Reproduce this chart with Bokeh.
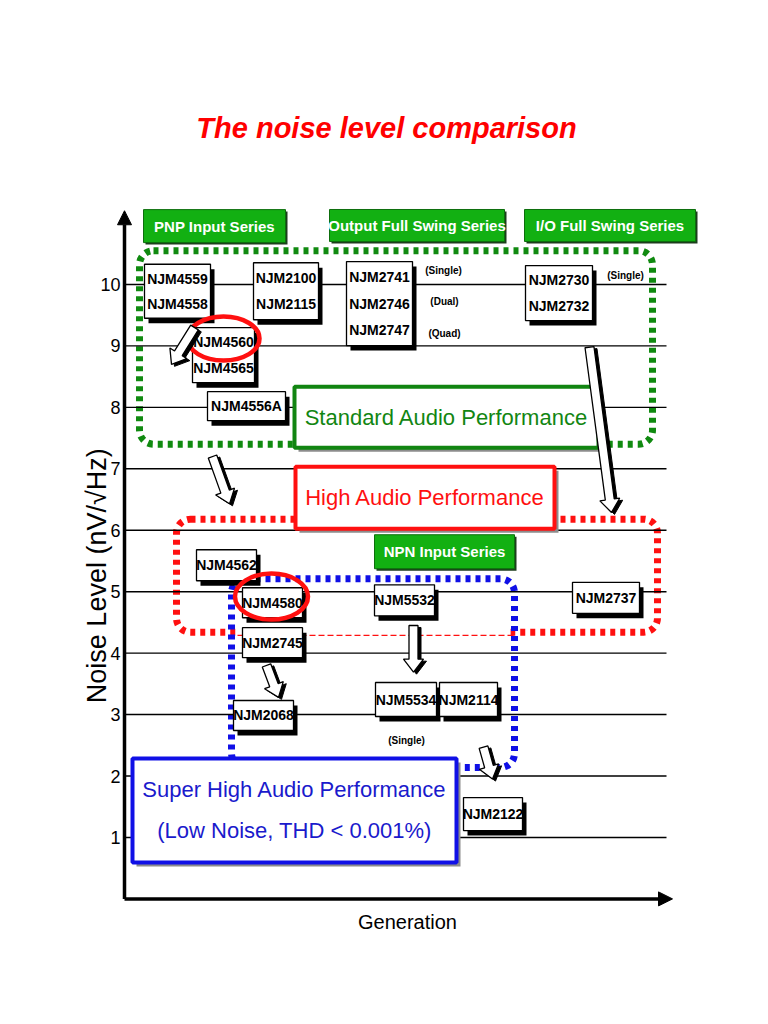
import math
from bokeh.plotting import figure
from bokeh.models import Range1d, FixedTicker, Arrow, NormalHead, BoxAnnotation, Label
from bokeh.core.properties import value
from bokeh.embed import file_html
from bokeh.resources import INLINE

SANS = "Liberation Sans"

# ---------------- data ----------------
levels = [1, 2, 3, 4, 5, 6, 7, 8, 9, 10]
tick_labels = ["1", "2", "3", "4", "5", "6", "7", "8", "9", "10"]

title_text = "The noise level comparison"
y_title = "Noise Level (nV/\u221aHz)"
x_title = "Generation"

series_names = ["PNP Input Series", "Output Full Swing Series", "I/O Full Swing Series", "NPN Input Series"]
series_gen = [9.0, 29.25, 48.55, 32.0]
series_level = [10.95, 10.96, 10.96, 5.65]

chip_lines = [["NJM4559", "NJM4558"], ["NJM2100", "NJM2115"], ["NJM2741", "NJM2746", "NJM2747"],
              ["NJM2730", "NJM2732"], ["NJM4560", "NJM4565"], ["NJM4556A"], ["NJM4562"],
              ["NJM4580"], ["NJM2745"], ["NJM5532"], ["NJM2737"], ["NJM2068"], ["NJM5534"],
              ["NJM2114"], ["NJM2122"]]
chip_gen = [5.3, 16.15, 25.5, 43.45, 9.9, 12.2, 10.2, 14.8, 14.8, 28.0, 48.15, 13.9, 28.15, 34.4, 36.85]
chip_level = [9.89, 9.89, 9.69, 9.86, 8.85, 8.02, 5.43, 4.82, 4.17, 4.86, 4.90, 2.985, 3.245, 3.245, 1.38]

note_text = ["(Single)", "(Dual)", "(Quad)", "(Single)", "(Single)"]
note_gen = [31.9, 32.0, 32.0, 50.1, 28.2]
note_level = [10.23, 9.72, 9.20, 10.15, 2.58]

perf_text = ["Standard Audio Performance", "High Audio Performance",
             "Super High Audio Performance\n(Low Noise, THD < 0.001%)"]
perf_gen = [32.2, 30.05, 17.0]
perf_level = [7.84, 6.53, 1.44]

region_gen_lo = [1.5, 5.2, 10.7]
region_gen_hi = [52.8, 53.3, 39.0]
region_level_hi = [10.55, 6.18, 5.21]
region_level_lo = [7.40, 4.34, 2.14]

highlight_gen = [9.9, 14.7]
highlight_level = [9.12, 4.92]

flow_gen0 = [7.0, 8.8, 46.5, 28.9, 14.2, 35.9]
flow_level0 = [9.30, 7.20, 8.98, 4.45, 3.80, 2.47]
flow_gen1 = [4.7, 10.5, 48.7, 28.9, 15.4, 36.8]
flow_level1 = [8.70, 6.43, 6.29, 3.69, 3.28, 1.95]

# ---------------- styles ----------------
PX_Y = 61.44   # pixels per noise unit
PX_X = 10.0    # pixels per generation unit
GREEN = "#12b012"
DGREEN = "#118511"
RED = "#ff1010"
BLUE = "#1010e6"

chip_w = [66, 65, 66, 67, 62, 78, 60, 60, 60, 60, 67, 60, 61, 58, 59]
chip_h = [54, 57, 84, 55, 55, 29, 31, 30, 30, 31, 31, 30, 34, 34, 33]
series_w = [142, 175, 171, 140]
series_h = [33, 32, 32, 34]
perf_w = [304, 259, 324]
perf_h = [61, 62, 104]
perf_color = [DGREEN, RED, BLUE]
perf_text_color = ["#128612", RED, "#1a1acc"]
region_color = ["#108a10", RED, BLUE]

p = figure(width=752, height=1008, output_backend="svg", toolbar_location=None,
           x_range=Range1d(-7.6, 62.8), y_range=Range1d(-1.784, 14.622),
           min_border_left=48, min_border_right=0, min_border_top=0, min_border_bottom=0)
p.outline_line_color = None
p.grid.visible = False
p.xaxis.visible = False
p.background_fill_color = "white"

ya = p.yaxis[0]
ya.fixed_location = 0
ya.ticker = FixedTicker(ticks=levels)
ya.major_label_overrides = {lv: lb for lv, lb in zip(levels, tick_labels)}
ya.major_tick_in = 0
ya.major_tick_out = 0
ya.minor_tick_in = 0
ya.minor_tick_out = 0
ya.axis_line_color = None
ya.major_label_standoff = 4
ya.major_label_text_font = SANS
ya.major_label_text_font_size = "18px"
ya.major_label_text_color = "black"

# gridlines
p.segment(x0=[0] * len(levels), x1=[54.2] * len(levels), y0=levels, y1=levels,
          line_color="black", line_width=1.4)

# dotted regions
for i in range(3):
    p.add_layout(BoxAnnotation(left=region_gen_lo[i], right=region_gen_hi[i],
                               top=region_level_hi[i], bottom=region_level_lo[i],
                               fill_color=None, fill_alpha=0, line_color=region_color[i], line_alpha=1.0,
                               line_width=7, line_dash="5 5", border_radius=14, level="underlay"))

# cover the red bottom edge inside the blue region and draw thin dashed line
p.segment(x0=[11.4], x1=[38.6], y0=[region_level_lo[1]], y1=[region_level_lo[1]],
          line_color="white", line_width=9)
p.segment(x0=[11.3], x1=[39.1], y0=[4.29], y1=[4.29], line_color=RED, line_width=1.3, line_dash="6 3")

# axes arrows
p.add_layout(Arrow(x_start=0, y_start=0, x_end=54.8, y_end=0, line_width=3.5, line_color="black",
                   end=NormalHead(size=14, fill_color="black", line_color="black")))
p.add_layout(Arrow(x_start=0, y_start=0, x_end=0, y_end=11.2, line_width=3.5, line_color="black",
                   end=NormalHead(size=14, fill_color="black", line_color="black")))

# series headers
sx = [g + 2 / PX_X for g in series_gen]
sy = [l - 2 / PX_Y for l in series_level]
p.rect(sx, sy, width=series_w, height=series_h, width_units="screen", height_units="screen",
       fill_color="#1d3d1d", line_color=None)
p.rect(series_gen, series_level, width=series_w, height=series_h, width_units="screen",
       height_units="screen", fill_color=GREEN, line_color="#0d6e0d", line_width=1.0)
p.text(series_gen, series_level, text=series_names, text_color="white", text_font=value(SANS),
       text_font_style="bold", text_font_size="15px", text_align="center", text_baseline="middle")

# performance boxes
p.rect([g + 4 / PX_X for g in perf_gen], [l - 4 / PX_Y for l in perf_level], width=perf_w,
       height=perf_h, width_units="screen", height_units="screen", fill_color="#8c8c8c", line_color=None)
p.rect(perf_gen, perf_level, width=perf_w, height=perf_h, width_units="screen", height_units="screen",
       fill_color="white", line_color=perf_color, line_width=4)
tx, ty, tt, tc = [], [], [], []
for g, l, t, c in zip(perf_gen, perf_level, perf_text, perf_text_color):
    parts = t.split("\n")
    n = len(parts)
    for k, s in enumerate(parts):
        tx.append(g)
        ty.append(l + ((n - 1) / 2 - k) * 41 / PX_Y)
        tt.append(s)
        tc.append(c)
p.text(tx, ty, text=tt, text_color=tc, text_font=value(SANS), text_font_size="22px",
       text_align="center", text_baseline="middle")

# chip boxes
p.rect([g + 4 / PX_X for g in chip_gen], [l - 5 / PX_Y for l in chip_level], width=chip_w, height=chip_h,
       width_units="screen", height_units="screen", fill_color="black", line_color=None)
p.rect(chip_gen, chip_level, width=chip_w, height=chip_h, width_units="screen", height_units="screen",
       fill_color="white", line_color="black", line_width=1.3)
cx, cy, ct = [], [], []
for g, l, lines, h in zip(chip_gen, chip_level, chip_lines, chip_h):
    n = len(lines)
    sp = (h - 4) / n if n > 1 else 0
    for k, s in enumerate(lines):
        cx.append(g)
        cy.append(l + ((n - 1) / 2 - k) * sp / PX_Y)
        ct.append(s)
p.text(cx, cy, text=ct, text_color="black", text_font=value(SANS), text_font_style="bold",
       text_font_size="14px", text_align="center", text_baseline="middle")

# notes
p.text(note_gen, note_level, text=note_text, text_color="black", text_font=value(SANS),
       text_font_style="bold", text_font_size="10px", text_align="center", text_baseline="middle")

# highlight ellipses
p.ellipse(highlight_gen, highlight_level, width=[72, 73], height=[44, 46], width_units="screen",
          height_units="screen", fill_color=None, line_color=RED, line_width=4.5)


# block arrows (shape built in screen pixels from the flow start/end points)
def block_arrow(g0, l0, g1, l1, shaft=4.5, head=10.0, head_len=13.0, off=(0.0, 0.0)):
    dx = (g1 - g0) * PX_X
    dy = (l1 - l0) * PX_Y
    L = math.hypot(dx, dy)
    ux, uy = dx / L, dy / L
    nx, ny = -uy, ux
    b = L - head_len
    pts = [(nx * shaft, ny * shaft), (ux * b + nx * shaft, uy * b + ny * shaft),
           (ux * b + nx * head, uy * b + ny * head), (ux * L, uy * L),
           (ux * b - nx * head, uy * b - ny * head), (ux * b - nx * shaft, uy * b - ny * shaft),
           (-nx * shaft, -ny * shaft)]
    xs = [g0 + (px + off[0]) / PX_X for px, py in pts]
    ys = [l0 + (py + off[1]) / PX_Y for px, py in pts]
    return xs, ys


shadow_x, shadow_y, body_x, body_y = [], [], [], []
for i in range(len(flow_gen0)):
    a, b = block_arrow(flow_gen0[i], flow_level0[i], flow_gen1[i], flow_level1[i], off=(3.0, -2.0))
    shadow_x.append(a)
    shadow_y.append(b)
    a, b = block_arrow(flow_gen0[i], flow_level0[i], flow_gen1[i], flow_level1[i])
    body_x.append(a)
    body_y.append(b)
p.patches(shadow_x, shadow_y, fill_color="black", line_color="black", line_width=1)
p.patches(body_x, body_y, fill_color="white", line_color="black", line_width=1.3)

# texts: title, axis titles
p.add_layout(Label(x=26.2, y=12.54, text=title_text, text_color="#ff0000", text_font=SANS,
                   text_font_style="bold italic", text_font_size="29px", text_align="center",
                   text_baseline="middle"))
p.add_layout(Label(x=-2.8, y=5.26, text=y_title, angle=math.pi / 2, text_color="black",
                   text_font=SANS, text_font_size="27px", text_align="center",
                   text_baseline="middle"))
p.add_layout(Label(x=28.3, y=-0.37, text=x_title, text_color="black", text_font=SANS,
                   text_font_size="20px", text_align="center", text_baseline="middle"))

open("out.html", "w").write(file_html(p, INLINE))
